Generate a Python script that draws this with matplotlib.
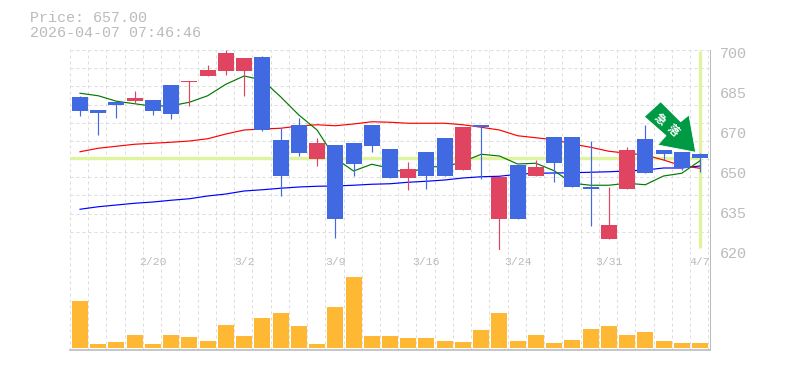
"""
Candlestick chart with moving averages and a volume panel.
"""
import matplotlib
matplotlib.use('Agg')
import numpy as np
import matplotlib.pyplot as plt
from matplotlib.patches import Polygon
from matplotlib.transforms import ScaledTranslation

plt.rcParams['font.family'] = ['Liberation Mono', 'DejaVu Sans Mono']

# ============================================================
# Data
# ============================================================
opens = [681.2, 676.0, 679.2, 679.6, 680.0, 686.0, 687.2, 689.6, 691.6, 691.6,
         697.2, 664.0, 670.0, 656.4, 662.0, 662.8, 670.0, 660.4, 648.8, 659.2,
         664.8, 652.0, 670.0, 632.4, 654.0, 649.6, 665.2, 665.2, 645.2, 624.4,
         644.4, 664.4, 660.0, 659.0, 658.4]
highs = [681.6, 676.0, 679.2, 683.6, 680.0, 686.0, 687.6, 694.0, 700.0, 696.8,
         697.6, 668.7, 672.8, 664.8, 662.0, 662.8, 670.0, 660.4, 655.2, 659.2,
         664.8, 669.2, 670.0, 649.2, 654.0, 656.0, 665.2, 665.2, 663.6, 645.2,
         661.2, 670.0, 660.0, 659.0, 658.8]
lows = [673.6, 666.0, 672.8, 678.8, 674.0, 672.4, 677.6, 689.6, 690.0, 681.6,
        667.6, 641.6, 657.6, 653.6, 624.8, 649.6, 659.2, 648.8, 644.0, 644.4,
        649.6, 652.0, 648.4, 620.0, 632.4, 649.6, 647.2, 645.2, 629.6, 624.4,
        644.4, 650.8, 656.0, 652.0, 651.2]
closes = [675.6, 674.8, 678.0, 680.8, 675.6, 674.4, 687.6, 692.0, 698.8, 696.8,
          668.0, 649.6, 658.8, 662.8, 632.4, 654.4, 661.6, 648.8, 652.4, 649.6,
          649.6, 669.2, 669.2, 649.2, 632.4, 653.2, 654.8, 645.2, 644.4, 630.0,
          660.0, 650.8, 658.4, 652.8, 656.8]

ma_short = [682.7, 681.7, 679.5, 678.5, 677.5, 677.7, 679.1, 681.7, 686.3, 689.6,
            688.0, 681.3, 674.0, 668.0, 656.7, 651.6, 654.3, 652.7, 650.7, 653.3,
            653.3, 655.3, 658.3, 657.6, 654.4, 654.7, 651.7, 646.7, 645.9, 645.9,
            646.7, 646.1, 649.6, 650.7, 655.7]
ma_mid = [659.3, 660.7, 661.5, 662.3, 662.7, 663.1, 663.6, 664.5, 666.4, 668.0,
          668.4, 668.7, 669.6, 670.1, 669.7, 670.4, 671.3, 671.1, 670.7, 670.7,
          670.7, 670.1, 669.1, 668.0, 665.7, 664.9, 664.1, 662.4, 661.1, 659.5,
          658.7, 658.0, 656.0, 653.7, 652.7]
ma_long = [636.3, 637.3, 638.0, 638.7, 639.2, 639.9, 640.5, 641.6, 642.4, 643.6,
           644.1, 644.7, 645.2, 645.5, 645.6, 645.9, 646.3, 646.5, 647.1, 647.5,
           648.0, 648.8, 649.3, 649.5, 650.3, 650.7, 650.8, 650.9, 651.1, 651.3,
           651.6, 652.0, 652.8, 652.8, 653.6]

volumes = [47, 4, 6, 13, 4, 13, 11, 7, 23, 12, 30, 35, 22, 4, 41, 71, 12, 12,
           10, 10, 7, 6, 18, 35, 7, 13, 5, 8, 19, 22, 13, 16, 7, 5, 5]

price_ticks = [620, 636, 652, 668, 684, 700]
price_labels = ['620', '635', '650', '670', '685', '700']
date_idx = [4, 9, 14, 19, 24, 29, 34]
date_labels = ['2/20', '3/2', '3/9', '3/16', '3/24', '3/31', '4/7']
last_price = 657.0
title_lines = ['Price: 657.00', '2026-04-07 07:46:46']
arrow_chars = ['急', '落']

BLUE = '#4169E1'
RED = '#E04460'
GRID = '#DDDDDD'
FRAME = '#BBBBBB'
TEXT = '#BBBBBB'
MARK = '#E0F4A0'
W, H = 785, 370
XMIN, XMAX = -0.548, 34.548
PX = 0.72  # one pixel in points


def px_axes(left, top, right, bottom):
    return [left / W, 1 - bottom / H, (right - left) / W, (bottom - top) / H]


fig = plt.figure(figsize=(W / 100, H / 100), dpi=100, facecolor='white')
ax = fig.add_axes(px_axes(70, 50, 710, 250))
ax_v = fig.add_axes(px_axes(70, 250, 710, 350))

x = np.arange(len(closes))
grid_x = np.arange(XMIN, XMAX, 1.0)

# ===== price panel =====
ax.set_xlim(XMIN, XMAX)
ax.set_ylim(620, 700)
ax.set_yticks(price_ticks)
ax.set_yticklabels(price_labels)
ax.set_xticks([])
ax.tick_params(axis='y', length=0, pad=7, labelsize=10.8, labelcolor=TEXT,
               left=False, labelleft=False, right=False, labelright=True)
for lab in ax.get_yticklabels():
    lab.set_transform(lab.get_transform() + ScaledTranslation(0, -3 / 100, fig.dpi_scale_trans))

for gy in np.linspace(620, 700, 12):
    ax.axhline(gy, color=GRID, lw=PX, ls=(0, (3, 3)), zorder=1)
for gx in grid_x:
    ax.axvline(gx, color=GRID, lw=PX, ls=(0, (3, 3)), zorder=1)

ax.plot([XMIN, x[-1]], [last_price, last_price], color=MARK, lw=2.4, zorder=2,
        solid_capstyle='butt')
ax.plot([x[-1], x[-1]], [620.8, 699.6], color=MARK, lw=2.4, zorder=2,
        solid_capstyle='butt')

ax.plot(x, ma_long, color='#0000FF', lw=0.85, zorder=3)
ax.plot(x, ma_mid, color='#FF0000', lw=0.85, zorder=3)
ax.plot(x, ma_short, color='#007A00', lw=0.85, zorder=3)

for i in x:
    col = RED if closes[i] > opens[i] else BLUE
    ax.plot([i, i], [lows[i], highs[i]], color=col, lw=0.85, zorder=4,
            solid_capstyle='butt')
    ax.bar(i, abs(closes[i] - opens[i]), bottom=min(opens[i], closes[i]),
           width=0.877, color=col, zorder=5)

for side in ['left', 'top']:
    ax.spines[side].set_visible(False)
ax.spines['right'].set_color(FRAME)
ax.spines['bottom'].set_color(FRAME)
ax.spines['right'].set_linewidth(PX)
ax.spines['bottom'].set_linewidth(PX)

# ===== volume panel =====
ax_v.set_xlim(XMIN, XMAX)
ax_v.set_ylim(-2, 98)
ax_v.set_xticks([])
ax_v.set_yticks([])
for gx in grid_x:
    ax_v.axvline(gx, color=GRID, lw=PX, ls=(0, (3, 3)), zorder=1)
ax_v.bar(x, volumes, width=0.877, color='#FFB833', zorder=3)
for i, lab in zip(date_idx, date_labels):
    ax_v.text(i, 86, lab, ha='center', va='center', fontsize=8.2, color=TEXT, zorder=4)
for side in ['left', 'top']:
    ax_v.spines[side].set_visible(False)
ax_v.spines['right'].set_color(FRAME)
ax_v.spines['bottom'].set_color(FRAME)
ax_v.spines['right'].set_linewidth(PX)
ax_v.spines['bottom'].set_linewidth(1.2)

# ===== arrow badge =====
arrow_px = [(644.3, 116.7), (660.7, 101.7), (680.7, 121.7), (689, 115),
            (695.7, 152.3), (657.7, 145), (666, 135.7)]
arrow_xy = [(px / W, 1 - py / H) for px, py in arrow_px]
fig.add_artist(Polygon(arrow_xy, closed=True, transform=fig.transFigure, facecolor='#009944',
                       edgecolor='white', lw=0.6, zorder=10))
for ch, (cx, cy) in zip(arrow_chars, [(660, 119), (673, 130)]):
    fig.text(cx / W, 1 - cy / H, ch, rotation=-42, rotation_mode='anchor',
             ha='center', va='center', fontsize=8.2, fontweight='bold', color='white',
             family=['Noto Sans CJK JP', 'DejaVu Sans'], zorder=11)

# ===== header =====
fig.text(30 / W, 1 - 18 / H, title_lines[0], ha='left', va='center', fontsize=10.8, color=TEXT)
fig.text(30 / W, 1 - 33 / H, title_lines[1], ha='left', va='center', fontsize=10.8, color=TEXT)

plt.savefig('out.png', dpi=100)
plt.close()
